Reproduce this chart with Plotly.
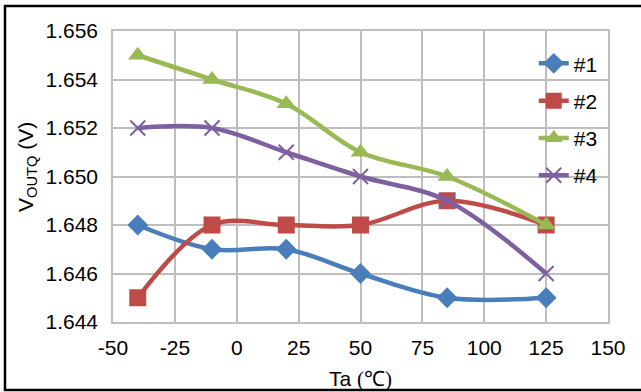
import plotly.graph_objects as go

temps = [-40, -10, 20, 50, 85, 125]
s1 = [1.648, 1.647, 1.647, 1.646, 1.645, 1.645]
s2 = [1.645, 1.648, 1.648, 1.648, 1.649, 1.648]
s3 = [1.655, 1.654, 1.653, 1.651, 1.650, 1.648]
s4 = [1.652, 1.652, 1.651, 1.650, 1.649, 1.646]
names = ["#1", "#2", "#3", "#4"]
x_ticks = [-50, -25, 0, 25, 50, 75, 100, 125, 150]
x_labels = ["-50", "-25", "0", "25", "50", "75", "100", "125", "150"]
y_ticks = [1.644, 1.646, 1.648, 1.650, 1.652, 1.654, 1.656]
y_labels = ["1.644", "1.646", "1.648", "1.650", "1.652", "1.654", "1.656"]
x_title = 'Ta <span style="font-family:Liberation Serif, Times New Roman, serif">(℃)</span>'
y_title = "V<sub>OUTQ</sub> (V)"

colors = ["#4A7EBB", "#BE4B48", "#98B954", "#7D60A0"]
symbols = ["diamond", "square", "triangle-up", "x-thin"]
sizes = [16, 17, 17, 15]

FONT = "Liberation Sans, Arial, sans-serif"
fig = go.Figure()
for i, ys in enumerate([s1, s2, s3, s4]):
    mk = dict(symbol=symbols[i], size=sizes[i], color=colors[i])
    if symbols[i] == "x-thin":
        mk["line"] = dict(color=colors[i], width=2)
    fig.add_trace(go.Scatter(
        x=temps, y=ys, name=names[i], mode="lines+markers",
        line=dict(color=colors[i], width=4.5, shape="spline", smoothing=1),
        marker=mk, legendgroup=names[i]))

grid = "#BEBEBE"
fig.update_layout(
    width=641, height=392,
    margin=dict(l=113, r=33, t=31, b=70),
    paper_bgcolor="white", plot_bgcolor="white",
    font=dict(family=FONT, size=21, color="#000000"),
    showlegend=True,
    legend=dict(x=0.85, y=0.958, xanchor="left", yanchor="top",
                bgcolor="rgba(0,0,0,0)", tracegroupgap=7,
                font=dict(size=21)),
    xaxis=dict(range=[-50, 150], tickvals=x_ticks, ticktext=x_labels,
               showgrid=True, gridcolor=grid, gridwidth=1.5, zeroline=False,
               showline=True, linecolor=grid, linewidth=1.5, mirror=True,
               ticks="", ticklabelstandoff=6, automargin=False),
    yaxis=dict(range=[1.644, 1.656], tickvals=y_ticks, ticktext=y_labels,
               showgrid=True, gridcolor=grid, gridwidth=1.5, zeroline=False,
               showline=True, linecolor=grid, linewidth=1.5, mirror=True,
               ticks="", ticklabelstandoff=9, automargin=False),
    annotations=[
        dict(text=x_title, xref="paper", yref="paper",
             x=0.5, y=(322 - 379) / 291, xanchor="center", yanchor="middle",
             showarrow=False, font=dict(size=21)),
        dict(text=y_title, xref="paper", yref="paper", textangle=-90,
             x=(27 - 113) / 495, y=(322 - 167) / 291, xanchor="center", yanchor="middle",
             showarrow=False, font=dict(size=21)),
    ],
    shapes=[dict(type="rect", xref="paper", yref="paper",
                 x0=(5 - 113) / 495, x1=(645 - 113) / 495,
                 y0=(322 - 390) / 291, y1=(322 - 6) / 291,
                 line=dict(color="black", width=2.5), fillcolor="rgba(0,0,0,0)", layer="below")],
)
fig.write_html("out.html", config={"displayModeBar": False},
               post_script="document.body.style.margin='0';")
